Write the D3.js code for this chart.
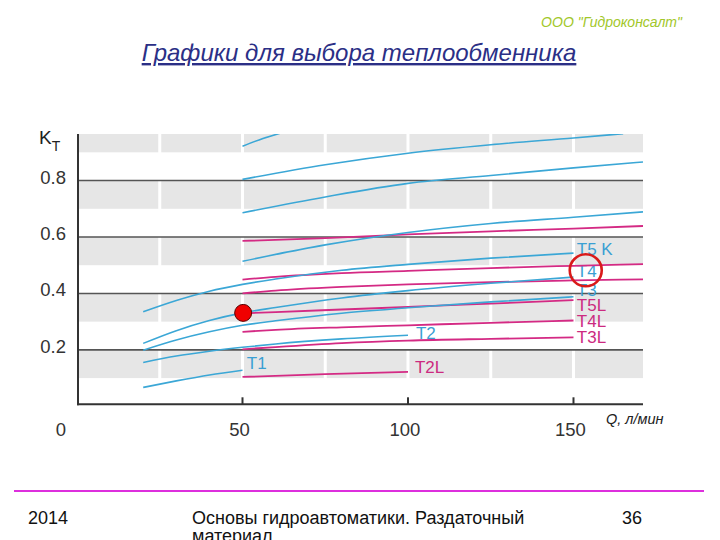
<!DOCTYPE html>
<html><head><meta charset="utf-8">
<script src="https://cdn.jsdelivr.net/npm/d3@7/dist/d3.min.js"></script>
<style>body{margin:0;background:#fff} svg{display:block}</style>
</head><body>
<svg id="chart" width="720" height="540"></svg>
<script>
// ---- data ----
const xTicks = [0, 50, 100, 150];
const yTicks = [0.2, 0.4, 0.6, 0.8];
const bandBottoms = [0.1, 0.3, 0.5, 0.7, 0.9];
const gapValues = [25, 50, 75, 100, 125, 150];

const qT1 = [20, 30, 40, 50];
const kT1 = [0.067, 0.090, 0.111, 0.128];
const qT2 = [20, 30, 40, 50, 60, 80, 100];
const kT2 = [0.155, 0.178, 0.195, 0.209, 0.221, 0.239, 0.252];
const qLow = [20, 30, 40, 50, 60, 80, 100, 125, 150];
const kT3 = [0.199, 0.235, 0.264, 0.287, 0.303, 0.330, 0.349, 0.370, 0.388];
const kT4 = [0.223, 0.268, 0.304, 0.331, 0.350, 0.384, 0.410, 0.436, 0.458];
const kT5K = [0.335, 0.375, 0.408, 0.432, 0.451, 0.482, 0.503, 0.525, 0.543];
const qUp = [50, 75, 100, 125, 150, 171];
const kB4 = [0.514, 0.572, 0.616, 0.648, 0.670, 0.689];
const kB3 = [0.686, 0.742, 0.790, 0.818, 0.845, 0.866];
const qB2 = [50, 75, 100, 125, 150, 165];
const kB2 = [0.804, 0.856, 0.897, 0.927, 0.951, 0.966];
const qB1 = [50, 55, 62];
const kB1 = [0.922, 0.944, 0.970];

const kM1 = [0.586, 0.596, 0.609, 0.620, 0.630, 0.639];
const qMid = [50, 60, 80, 100, 125, 150, 171];
const kMa = [0.449, 0.459, 0.472, 0.480, 0.490, 0.498, 0.504];
const kMb = [0.400, 0.410, 0.423, 0.432, 0.440, 0.446, 0.450];
const qL = [50, 60, 80, 100, 125, 150];
const kT5L = [0.329, 0.334, 0.343, 0.352, 0.364, 0.376];
const kT4L = [0.264, 0.271, 0.280, 0.287, 0.296, 0.304];
const kT3L = [0.202, 0.210, 0.224, 0.233, 0.239, 0.244];
const qT2L = [50, 75, 100];
const kT2L = [0.104, 0.114, 0.122];

const labelNames = ["T1", "T2", "T2L", "T5 K", "T4", "T3", "T5L", "T4L", "T3L"];
const labelQ = [51.3, 102.4, 102.1, 151, 151, 151, 151, 151, 151];
const labelK = [0.132, 0.240, 0.117, 0.535, 0.459, 0.391, 0.337, 0.282, 0.225];
const labelKind = ["T", "T", "L", "T", "T", "T", "L", "L", "L"];

const pointQ = 50.2, pointK = 0.331;
const ringQ = 153.7, ringK = 0.482;

// ---- drawing ----
const BLUE = "#3ba7d6", MAG = "#d42a84", BLUE_TXT = "#3a9fd3", MAG_TXT = "#cc2a80";
const svg = d3.select("#chart");
const x = d3.scaleLinear().domain([0, 171]).range([77, 643]);
const y = d3.scaleLinear().domain([0, 0.965]).range([406.3, 134]);
const font = "'Liberation Sans', Arial, sans-serif";

// header
svg.append("text").attr("x", 682).attr("y", 27).attr("text-anchor", "end")
  .attr("font-family", font).attr("font-style", "italic").attr("font-size", 14)
  .attr("fill", "#a2c72a").text("ООО \"Гидроконсалт\"");
svg.append("text").attr("x", 359).attr("y", 61).attr("text-anchor", "middle")
  .attr("font-family", font).attr("font-style", "italic").attr("font-size", 24)
  .attr("fill", "#2b2f86").attr("text-decoration", "underline")
  .text("Графики для выбора теплообменника");

// plot background bands
const plot = svg.append("g");
bandBottoms.forEach(b => {
  const top = Math.min(b + 0.1, 0.965);
  plot.append("rect").attr("x", x(0)).attr("width", x(171) - x(0))
    .attr("y", y(top)).attr("height", y(b) - y(top)).attr("fill", "#e6e6e6");
});
gapValues.forEach(g => {
  plot.append("rect").attr("x", x(g) - 1.5).attr("width", 3)
    .attr("y", y(0.965)).attr("height", y(0) - y(0.965)).attr("fill", "#fff");
});
// grid lines
yTicks.forEach(t => {
  plot.append("line").attr("x1", x(0)).attr("x2", x(171)).attr("y1", y(t)).attr("y2", y(t))
    .attr("stroke", "#555").attr("stroke-width", 1.6);
});

// axes
const axisY = y(0) - 2;
svg.append("line").attr("x1", x(0) + 1).attr("x2", x(0) + 1).attr("y1", y(0.965)).attr("y2", axisY + 1)
  .attr("stroke", "#333").attr("stroke-width", 2);
svg.append("line").attr("x1", x(0)).attr("x2", x(171)).attr("y1", axisY).attr("y2", axisY)
  .attr("stroke", "#333").attr("stroke-width", 2);
xTicks.filter(t => t > 0).forEach(t => {
  svg.append("line").attr("x1", x(t)).attr("x2", x(t)).attr("y1", axisY).attr("y2", axisY - 7)
    .attr("stroke", "#333").attr("stroke-width", 2);
});
xTicks.forEach(t => {
  svg.append("text").attr("x", t === 0 ? x(t) - 16 : x(t) - 3).attr("y", 436)
    .attr("text-anchor", "middle").attr("font-family", font).attr("font-size", 18.5)
    .attr("fill", "#333").text(t);
});
yTicks.forEach(t => {
  svg.append("text").attr("x", 66).attr("y", y(t) + 3).attr("text-anchor", "end")
    .attr("font-family", font).attr("font-size", 18.5).attr("fill", "#333").text(t.toFixed(1));
});
const kt = svg.append("text").attr("x", 39).attr("y", 143.5).attr("font-family", font)
  .attr("font-size", 19).attr("fill", "#222");
kt.append("tspan").text("K");
kt.append("tspan").attr("font-size", 14).attr("dy", 7).text("T");
svg.append("text").attr("x", 606).attr("y", 424).attr("font-family", font)
  .attr("font-style", "italic").attr("font-size", 14.5).attr("fill", "#222").text("Q, л/мин");

// clip
svg.append("clipPath").attr("id", "clip").append("rect")
  .attr("x", x(0)).attr("y", y(0.965)).attr("width", x(171) - x(0)).attr("height", y(0) - y(0.965));

// labels
labelNames.forEach((n, i) => {
  svg.append("text").attr("x", x(labelQ[i])).attr("y", y(labelK[i]))
    .attr("font-family", font).attr("font-size", 17)
    .attr("fill", labelKind[i] === "T" ? BLUE_TXT : MAG_TXT).text(n);
});

// curves
const line = d3.line().x(d => x(d[0])).y(d => y(d[1])).curve(d3.curveMonotoneX);
const zip = (q, k) => q.map((v, i) => [v, k[i]]);
const blueSeries = [[qT1, kT1], [qT2, kT2], [qLow, kT3], [qLow, kT4], [qLow, kT5K], [qUp, kB4], [qUp, kB3], [qB2, kB2], [qB1, kB1]];
const magSeries = [[qUp, kM1], [qMid, kMa], [qMid, kMb], [qL, kT5L], [qL, kT4L], [qL, kT3L], [qT2L, kT2L]];
const cg = svg.append("g").attr("clip-path", "url(#clip)");
magSeries.forEach(s => {
  cg.append("path").attr("d", line(zip(s[0], s[1]))).attr("fill", "none")
    .attr("stroke", MAG).attr("stroke-width", 1.8);
});
blueSeries.forEach(s => {
  cg.append("path").attr("d", line(zip(s[0], s[1]))).attr("fill", "none")
    .attr("stroke", BLUE).attr("stroke-width", 1.6);
});

// markers
svg.append("circle").attr("cx", x(pointQ)).attr("cy", y(pointK)).attr("r", 8.5)
  .attr("fill", "#f00000").attr("stroke", "#5a0000").attr("stroke-width", 1);
svg.append("circle").attr("cx", x(ringQ)).attr("cy", y(ringK)).attr("r", 16)
  .attr("fill", "none").attr("stroke", "#d91a1a").attr("stroke-width", 2.6);

// footer
svg.append("line").attr("x1", 14).attr("x2", 704).attr("y1", 491).attr("y2", 491)
  .attr("stroke", "#dd2fdd").attr("stroke-width", 2);
const ff = svg.append("g").attr("font-family", font).attr("font-size", 18).attr("fill", "#111");
ff.append("text").attr("x", 28).attr("y", 524).text("2014");
ff.append("text").attr("x", 192).attr("y", 524).text("Основы гидроавтоматики. Раздаточный");
ff.append("text").attr("x", 192).attr("y", 542).text("материал");
ff.append("text").attr("x", 622).attr("y", 524).text("36");
</script>
</body></html>
